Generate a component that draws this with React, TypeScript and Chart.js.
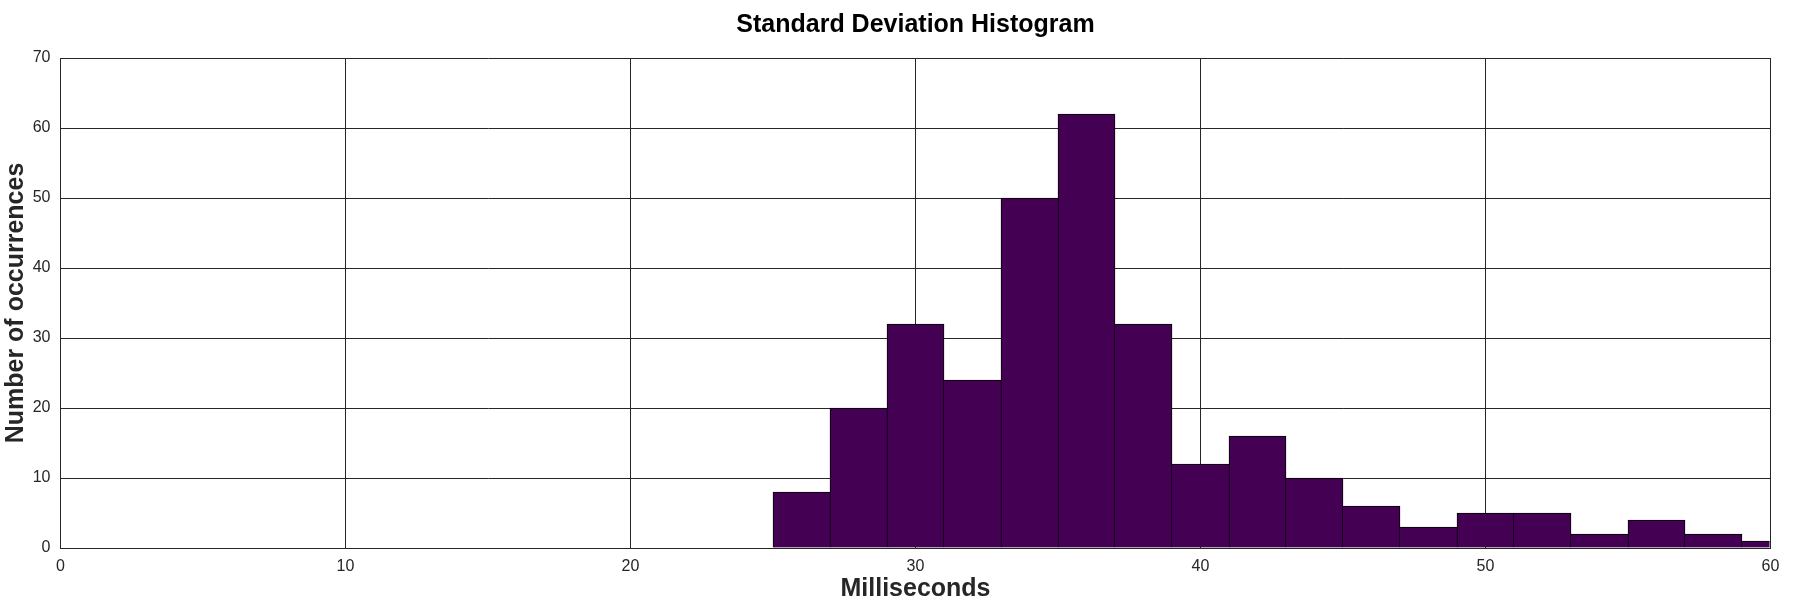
import React, { useEffect, useRef } from "react";
import { Chart, registerables } from "chart.js";

Chart.register(...registerables);

const TITLE = "Standard Deviation Histogram";
const X_LABEL = "Milliseconds";
const Y_LABEL = "Number of occurrences";

// histogram bins: each bin starts at binStarts[i] and is BIN_WIDTH wide
const BIN_WIDTH = 2;
const binStarts = [25, 27, 29, 31, 33, 35, 37, 39, 41, 43, 45, 47, 49, 51, 53, 55, 57, 59];
const counts = [8, 20, 32, 24, 50, 62, 32, 12, 16, 10, 6, 3, 5, 5, 2, 4, 2, 1];

const X_MIN = 0;
const X_MAX = 60;
const X_STEP = 10;
const Y_MIN = 0;
const Y_MAX = 70;
const Y_STEP = 10;

const FONT = "'Liberation Sans', Arial, Helvetica, sans-serif";
const BAR_COLOR = "#440154";
const EDGE_COLOR = "#000000";
const GRID_COLOR = "#262626";
const TEXT_COLOR = "#262626";

export default function App() {
  const ref = useRef<HTMLCanvasElement | null>(null);

  useEffect(() => {
    if (!ref.current) return;
    const points = binStarts.map((s, i) => ({ x: s + BIN_WIDTH / 2, y: counts[i] }));
    const last = counts.length - 1;
    const chart = new Chart(ref.current, {
      type: "bar",
      data: {
        datasets: [
          {
            data: points,
            backgroundColor: BAR_COLOR,
            borderColor: EDGE_COLOR,
            // each shared edge is drawn once, by the taller of the two bars
            borderWidth: (ctx: any) => {
              const j = ctx.dataIndex;
              const h = counts[j];
              return {
                top: 1,
                bottom: 0,
                left: j === 0 || counts[j - 1] < h ? 1 : 0,
                right: j === last || counts[j + 1] <= h ? 1 : 0,
              };
            },
            borderSkipped: false,
            barPercentage: 1,
            categoryPercentage: 1,
            clip: { left: 0, top: 0, right: -1, bottom: 0 },
          } as any,
        ],
      },
      options: {
        animation: false,
        responsive: false,
        maintainAspectRatio: false,
        layout: { padding: { left: 0, right: 29.5, top: 0, bottom: 0 } },
        plugins: {
          legend: { display: false },
          tooltip: { enabled: false },
          title: {
            display: true,
            text: TITLE,
            fullSize: false,
            color: "#000000",
            font: { family: FONT, size: 25, weight: "bold", lineHeight: 1.2 },
            padding: { top: 10, bottom: 18 },
          },
        },
        scales: {
          x: {
            type: "linear",
            min: X_MIN,
            max: X_MAX,
            offset: false,
            afterFit: (scale: any) => {
              scale.height = 52;
            },
            ticks: {
              stepSize: X_STEP,
              color: TEXT_COLOR,
              font: { family: FONT, size: 16 },
              padding: 9,
              maxRotation: 0,
            },
            grid: {
              color: GRID_COLOR,
              lineWidth: 1,
              drawTicks: false,
              offset: false,
            },
            border: { display: true, color: GRID_COLOR, width: 1 },
            title: {
              display: true,
              text: X_LABEL,
              color: TEXT_COLOR,
              font: { family: FONT, size: 25, weight: "bold", lineHeight: 0.84 },
              padding: { top: 0, bottom: 0 },
            },
          },
          y: {
            type: "linear",
            min: Y_MIN,
            max: Y_MAX,
            afterFit: (scale: any) => {
              scale.width = 60.5;
            },
            ticks: {
              stepSize: Y_STEP,
              color: TEXT_COLOR,
              font: { family: FONT, size: 16 },
              padding: 10,
            },
            grid: {
              color: GRID_COLOR,
              lineWidth: 1,
              drawTicks: false,
            },
            border: { display: true, color: GRID_COLOR, width: 1 },
            title: {
              display: true,
              text: Y_LABEL,
              color: TEXT_COLOR,
              font: { family: FONT, size: 25, weight: "bold", lineHeight: 1.2 },
              padding: { top: 1, bottom: 0 },
            },
          },
        },
      } as any,
    });
    return () => chart.destroy();
  }, []);

  return (
    <div style={{ position: "absolute", left: 0, top: 0, width: 1800, height: 600, background: "#fff" }}>
      <canvas ref={ref} width={1800} height={600} style={{ width: 1800, height: 600, display: "block" }} />
    </div>
  );
}
